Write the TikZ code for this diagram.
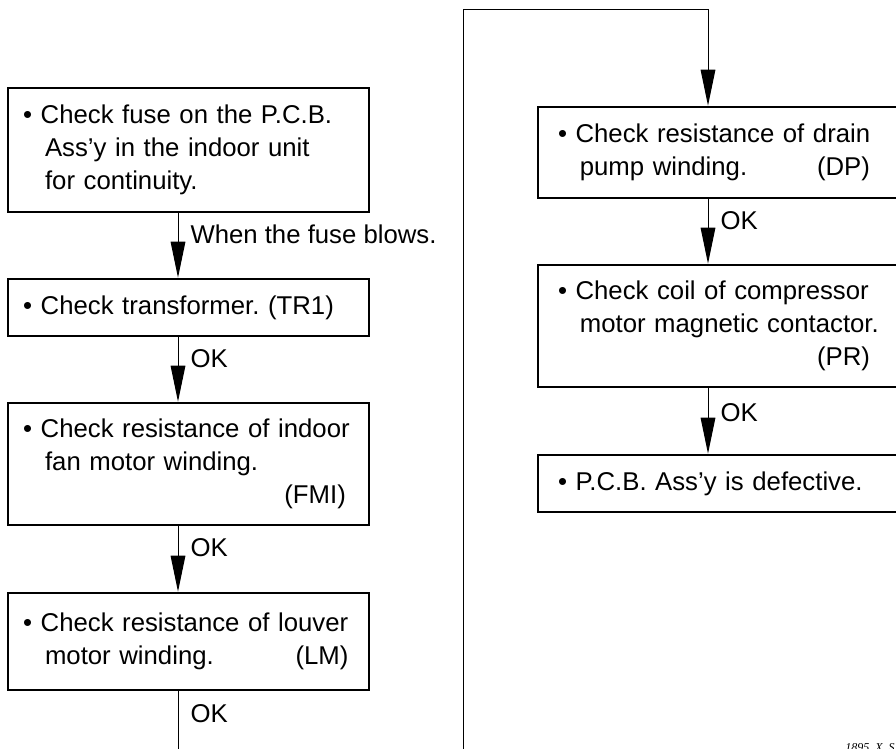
\documentclass[tikz,border=0pt]{standalone}
\usepackage{fontspec}
\setmainfont{Liberation Sans}
\newfontfamily\notefont{Liberation Serif}
\usetikzlibrary{arrows.meta}
\frenchspacing
\hyphenpenalty=10000
\newcommand{\chkfont}{\fontsize{19.3pt}{24.75pt}\selectfont}
\newcommand{\ind}{\hspace*{0.85em}}
\newcommand{\rgap}{\hspace*{22.5pt}\mbox{}}
\newcommand{\rpush}{\leavevmode\hfill}
\tikzset{
    chkbox/.style={draw, line width=2pt, align=left, inner xsep=11.4pt, inner ysep=0pt,
        text width=248pt, font=\chkfont},
    chkboxr/.style={chkbox, inner xsep=15pt, text width=256.5pt},
    arr/.style={line width=0.75pt, -{Triangle[length=27pt, width=11pt]}},
    lbl/.style={anchor=west, xshift=9pt, pos=0.33, font=\chkfont, inner sep=0pt}
}
\begin{document}
\begin{tikzpicture}[x=0.75pt, y=-0.75pt]
    \useasboundingbox (0,0) rectangle (896,749);
    \clip (0,0) rectangle (896,749);

    % Left column
    \node[chkbox, minimum height=93pt] (fuse) at (188.5,150)
        {\textbullet\ Check fuse on the P.C.B.\\ \ind Ass'y in the indoor unit\\ \ind for continuity.};
    \node[chkbox, minimum height=42.75pt] (tr) at (188.5,307.5)
        {\textbullet\ Check transformer. (TR1)};
    \node[chkbox, minimum height=91.5pt] (fmi) at (188.5,464)
        {\textbullet\ Check resistance of indoor\\ \ind fan motor winding.\\ \rpush(FMI)\hspace*{6pt}\mbox{}};
    \node[chkbox, minimum height=72.75pt] (lm) at (188.5,641.5)
        {\textbullet\ Check resistance of louver\\ \ind motor winding.\hfill(LM)\hspace*{4pt}\mbox{}};

    % Right column
    \node[chkboxr, minimum height=68.25pt] (dp) at (729,152.5)
        {\textbullet\ Check resistance of drain\\ \ind pump winding.\hfill(DP)\rgap};
    \node[chkboxr, minimum height=91.5pt] (pr) at (729,326)
        {\textbullet\ Check coil of compressor\\ \ind motor magnetic contactor.\\ \rpush(PR)\rgap};
    \node[chkboxr, minimum height=42.75pt] (pcb) at (729,483.5)
        {\textbullet\ P.C.B. Ass'y is defective.};

    \coordinate (lx) at (178,0);
    \coordinate (rx) at (708,0);
    \coordinate (lmout) at (178,760);
    \coordinate (loopin) at (463,760);
    \coordinate (looptop) at (463,10);

    % Connectors
    \draw[arr] (fuse.south -| lx) -- node[lbl] {When the fuse blows.} (tr.north -| lx);
    \draw[arr] (tr.south -| lx) -- node[lbl] {OK} (fmi.north -| lx);
    \draw[arr] (fmi.south -| lx) -- node[lbl] {OK} (lm.north -| lx);
    \draw[line width=0.75pt] (lm.south -| lx) -- node[lbl] {OK} (lmout);
    \draw[arr] (loopin) -- (looptop) -| (dp.north -| rx);
    \draw[arr] (dp.south -| rx) -- node[lbl] {OK} (pr.north -| rx);
    \draw[arr] (pr.south -| rx) -- node[lbl, pos=0.37] {OK} (pcb.north -| rx);

    \node[anchor=base west, inner sep=0pt, font=\notefont\itshape\fontsize{9pt}{10pt}\selectfont] (code) at (845,751) {1895\_X\_S};
\end{tikzpicture}
\end{document}
